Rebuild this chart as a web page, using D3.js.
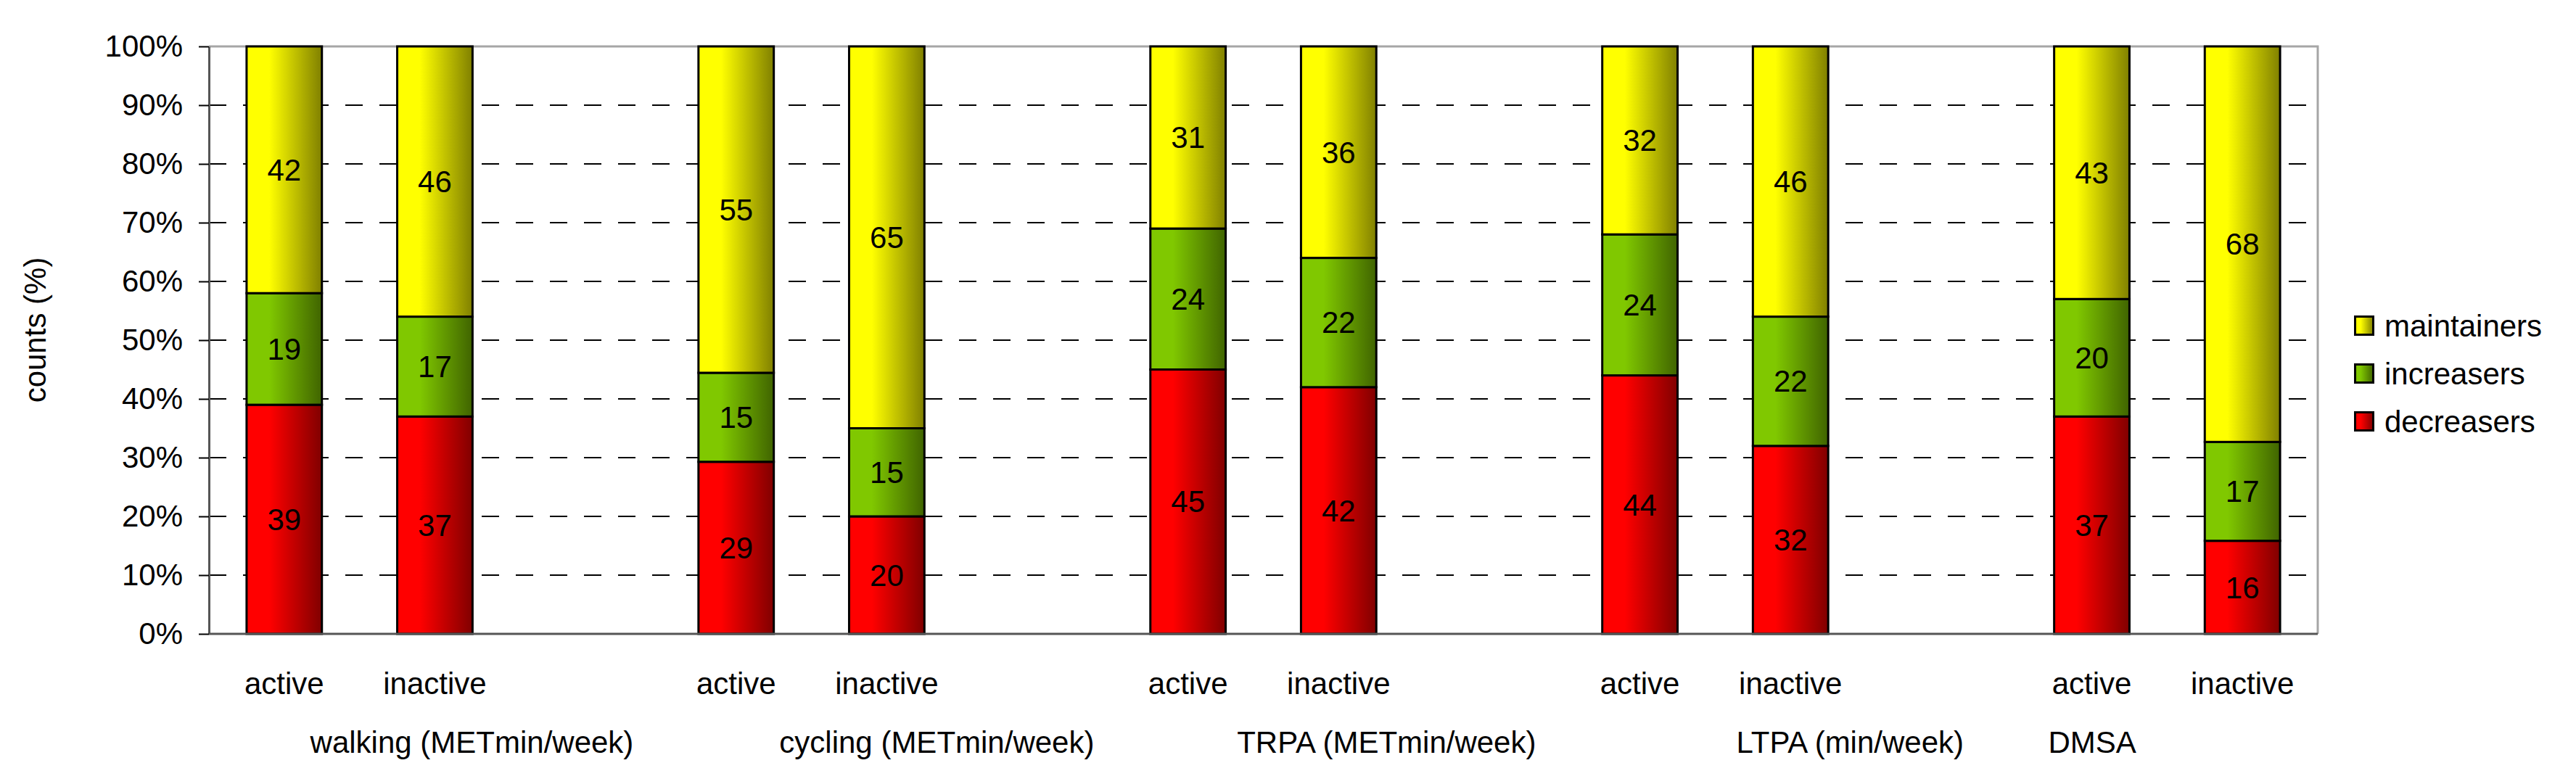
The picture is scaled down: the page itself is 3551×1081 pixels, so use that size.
<!DOCTYPE html>
<html lang="en">
<head>
    <meta charset="utf-8">
    <title>counts (%) by activity group</title>
    <style>
        body { margin: 0; background: white; }
        svg { display: block; background: white; }
        text { font-family: "Liberation Sans", Arial, sans-serif; font-size: 42px; fill: #000; }
    </style>
    <script src="https://d3js.org/d3.v7.min.js"></script>
</head>
<body>
<svg id="chart"></svg>
<script>
    // data
    const groups = ["walking (METmin/week)", "cycling (METmin/week)", "TRPA (METmin/week)", "LTPA (min/week)", "DMSA"];
    const levels = ["active", "inactive"];
    const series = ["decreasers", "increasers", "maintainers"];
    const decreasers = [39, 37, 29, 20, 45, 42, 44, 32, 37, 16];
    const increasers = [19, 17, 15, 15, 24, 22, 24, 22, 20, 17];
    const maintainers = [42, 46, 55, 65, 31, 36, 32, 46, 43, 68];
    const yTicks = [0, 0.1, 0.2, 0.3, 0.4, 0.5, 0.6, 0.7, 0.8, 0.9, 1];

    const width = 3551, height = 1081;
    const plot = { left: 288, right: 3195, top: 64, bottom: 874 };

    const colors = {
        decreasers: ["#ff0000", "#800000"],
        increasers: ["#80c800", "#406400"],
        maintainers: ["#ffff00", "#808000"]
    };

    // one slot per bar, an empty slot between groups
    const slots = [];
    groups.forEach((g, gi) => {
        levels.forEach(l => slots.push(g + "|" + l));
        if (gi < groups.length - 1) slots.push("gap" + gi);
    });

    const rows = [];
    groups.forEach((g, gi) => {
        levels.forEach((l, li) => {
            const i = gi * 2 + li;
            rows.push({ slot: g + "|" + l, level: l,
                decreasers: decreasers[i], increasers: increasers[i], maintainers: maintainers[i] });
        });
    });

    const svg = d3.select("#chart").attr("width", width).attr("height", height);

    const x = d3.scaleBand().domain(slots).range([plot.left, plot.right])
        .paddingInner(0.5).paddingOuter(0.25);
    const y = d3.scaleLinear().domain([0, 1]).range([plot.bottom, plot.top]);

    // gradients
    const defs = svg.append("defs");
    series.forEach(s => {
        const grad = defs.append("linearGradient").attr("id", "g-" + s)
            .attr("x1", "0").attr("x2", "1").attr("y1", "0").attr("y2", "0");
        grad.append("stop").attr("offset", "0").attr("stop-color", colors[s][0]);
        grad.append("stop").attr("offset", "0.3").attr("stop-color", colors[s][0]);
        grad.append("stop").attr("offset", "1").attr("stop-color", colors[s][1]);
    });

    // gridlines
    svg.append("g").selectAll("line")
        .data(yTicks.filter(t => t > 0 && t < 1))
        .join("line")
        .attr("x1", plot.left).attr("x2", plot.right)
        .attr("y1", d => y(d)).attr("y2", d => y(d))
        .attr("stroke", "#000").attr("stroke-width", 2)
        .attr("stroke-dasharray", "24,23");

    // plot area border (top, right)
    svg.append("path")
        .attr("d", `M${plot.left},${plot.top}H${plot.right}V${plot.bottom}`)
        .attr("fill", "none").attr("stroke", "#a6a6a6").attr("stroke-width", 3);

    // stacked bars
    const stacked = d3.stack().keys(series).offset(d3.stackOffsetExpand)(rows);
    const layers = svg.append("g").selectAll("g")
        .data(stacked)
        .join("g")
        .attr("fill", d => `url(#g-${d.key})`);

    layers.selectAll("rect")
        .data(d => d)
        .join("rect")
        .attr("x", d => x(d.data.slot))
        .attr("width", x.bandwidth())
        .attr("y", d => y(d[1]))
        .attr("height", d => y(d[0]) - y(d[1]))
        .attr("stroke", "#000")
        .attr("stroke-width", 3);

    layers.each(function (layer) {
        d3.select(this).selectAll("text")
            .data(layer)
            .join("text")
            .attr("x", d => x(d.data.slot) + x.bandwidth() / 2)
            .attr("y", d => y((d[0] + d[1]) / 2))
            .attr("dy", "0.35em")
            .attr("text-anchor", "middle")
            .text(d => d.data[layer.key]);
    });

    // y axis
    const yAxis = svg.append("g")
        .attr("transform", `translate(${plot.left},0)`)
        .call(d3.axisLeft(y).tickValues(yTicks).tickFormat(d3.format(".0%"))
            .tickSize(14).tickSizeOuter(0).tickPadding(22));
    yAxis.select(".domain").attr("stroke", "#555").attr("stroke-width", 3);
    yAxis.selectAll(".tick line").attr("stroke", "#000").attr("stroke-width", 2);
    yAxis.selectAll(".tick text")
        .style("font-family", '"Liberation Sans", Arial, sans-serif')
        .style("font-size", "42px").attr("fill", "#000");

    // x axis line
    svg.append("line")
        .attr("x1", plot.left).attr("x2", plot.right)
        .attr("y1", plot.bottom).attr("y2", plot.bottom)
        .attr("stroke", "#555").attr("stroke-width", 3);

    // level labels
    svg.append("g").selectAll("text")
        .data(rows)
        .join("text")
        .attr("x", d => x(d.slot) + x.bandwidth() / 2)
        .attr("y", 957)
        .attr("text-anchor", "middle")
        .text(d => d.level);

    // group labels
    const groupShift = [51, 69, 66, 82, -207];
    svg.append("g").selectAll("text")
        .data(groups)
        .join("text")
        .attr("x", (g, i) => x(g + "|inactive") + x.bandwidth() / 2 + groupShift[i])
        .attr("y", 1038)
        .attr("text-anchor", "middle")
        .text(g => g);

    // y axis title
    svg.append("text")
        .attr("transform", "translate(63,455) rotate(-90)")
        .attr("text-anchor", "middle")
        .text("counts (%)");

    // legend
    const legend = svg.append("g").selectAll("g")
        .data(series.slice().reverse())
        .join("g")
        .attr("transform", (d, i) => `translate(3245,${449 + i * 66})`);
    legend.append("rect")
        .attr("x", 1.5).attr("y", -12.5)
        .attr("width", 25).attr("height", 25)
        .attr("fill", d => `url(#g-${d})`)
        .attr("stroke", "#000").attr("stroke-width", 3);
    legend.append("text")
        .attr("x", 42).attr("y", 0).attr("dy", "0.35em")
        .text(d => d);
</script>
</body>
</html>
